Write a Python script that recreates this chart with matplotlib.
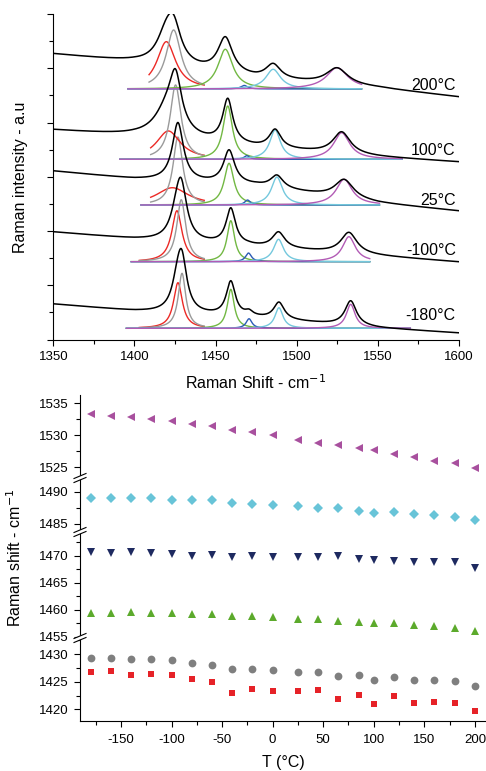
import numpy as np
import matplotlib
matplotlib.use("Agg")
import matplotlib.pyplot as plt
from matplotlib.ticker import MultipleLocator, NullFormatter
from matplotlib.lines import Line2D
from matplotlib.patches import Polygon

plt.rcParams['font.family'] = ['Liberation Sans', 'DejaVu Sans']
plt.rcParams['axes.unicode_minus'] = False

# ---------------- band positions (cm^-1) versus temperature ----------------
temperature = [-180, -160, -140, -120, -100, -80, -60, -40, -20, 0,
               25, 45, 65, 85, 100, 120, 140, 160, 180, 200]
band_1427 = [1426.82, 1427.00, 1426.29, 1426.35, 1426.17, 1425.46, 1424.99, 1422.97, 1423.68, 1423.27,
             1423.32, 1423.44, 1421.84, 1422.67, 1420.89, 1422.37, 1421.07, 1421.36, 1421.19, 1419.64]
band_1429 = [1429.32, 1429.32, 1429.02, 1429.02, 1428.84, 1428.43, 1428.07, 1427.36, 1427.30, 1427.06,
             1426.77, 1426.77, 1426.11, 1426.29, 1425.34, 1425.88, 1425.22, 1425.22, 1425.04, 1424.15]
band_1459 = [1459.38, 1459.38, 1459.50, 1459.38, 1459.38, 1459.25, 1459.19, 1458.81, 1458.81, 1458.56,
             1458.31, 1458.19, 1457.88, 1457.81, 1457.50, 1457.56, 1457.13, 1456.94, 1456.56, 1456.00]
band_1470 = [1470.62, 1470.49, 1470.62, 1470.49, 1470.31, 1469.88, 1470.12, 1469.81, 1469.88, 1469.75,
             1469.69, 1469.69, 1470.00, 1469.32, 1469.26, 1469.07, 1468.89, 1468.89, 1468.89, 1467.65]
band_1489 = [1489.06, 1489.06, 1489.06, 1489.00, 1488.79, 1488.79, 1488.69, 1488.32, 1488.16, 1487.95,
             1487.80, 1487.43, 1487.38, 1486.96, 1486.69, 1486.80, 1486.43, 1486.33, 1485.96, 1485.49]
band_1533 = [1533.26, 1533.05, 1532.84, 1532.53, 1532.16, 1531.68, 1531.37, 1530.74, 1530.53, 1530.00,
             1529.21, 1528.84, 1528.47, 1528.00, 1527.68, 1527.10, 1526.58, 1526.00, 1525.58, 1524.84]

# ---------------- stacked spectra ----------------
spectrum_temps = [200, 100, 25, -100, -180]
spectrum_labels = ['200°C', '100°C', '25°C', '-100°C', '-180°C']
label_level = [4.68, 3.48, 2.57, 1.64, 0.45]
# fitted-component zero level for each trace
fit_zero = [4.618, 3.322, 2.479, 1.434, 0.206]
# component heights, order: 1427, 1429, 1459, 1470, 1489, 1533 bands
fit_height = [[0.872, 1.088, 0.732, 0.065, 0.363, 0.393],
              [0.522, 1.370, 0.982, 0.066, 0.540, 0.490],
              [0.319, 1.253, 0.769, 0.092, 0.516, 0.474],
              [0.940, 1.143, 0.756, 0.160, 0.413, 0.461],
              [0.841, 1.014, 0.719, 0.177, 0.380, 0.442]]
# half widths at half maximum (cm^-1)
fit_hwhm = [[7.0, 5.5, 5.5, 2.5, 5.5, 8.0],
            [9.0, 4.0, 3.5, 2.0, 4.0, 6.0],
            [12.0, 3.6, 3.6, 2.1, 4.1, 6.0],
            [3.8, 3.3, 2.8, 2.2, 3.7, 4.8],
            [3.3, 2.8, 2.6, 2.2, 3.0, 3.3]]
# extra width of the measured bands relative to the fitted components
spectrum_broadening = [1.0, 1.08, 1.15, 1.25, 1.3]
# measured spectrum level at each band centre
spectrum_level = [[5.917, 5.991, 5.582, 4.977, 5.091, 5.010],
                  [4.660, 4.986, 4.446, 3.617, 3.880, 3.830],
                  [3.554, 3.991, 3.493, 2.848, 3.032, 2.953],
                  [2.817, 2.977, 2.429, 1.816, 1.987, 1.976],
                  [1.539, 1.650, 1.084, 0.562, 0.691, 0.715]]
# spectrum background
background_shift = [1350, 1400, 1475, 1550, 1600]
background_level = [[5.263, 5.115, 4.802, 4.636, 4.470],
                    [3.862, 3.751, 3.530, 3.364, 3.272],
                    [3.106, 2.959, 2.829, 2.516, 2.369],
                    [1.982, 1.853, 1.705, 1.539, 1.429],
                    [0.654, 0.525, 0.396, 0.212, 0.120]]
# shift range over which each fitted component is plotted
span_narrow = [(1409, 1443), (1410, 1443), (1410, 1443), (1403, 1443), (1403, 1443)]
span_wide = [(1396, 1540), (1391, 1565), (1404, 1551), (1398, 1545), (1395, 1570)]

fit_colors = ['#ec2a26', '#9a9a9a', '#72b843', '#2b5bb5', '#74c8dd', '#b25bb5']
marker_colors = ['#e62228', '#7f7f7f', '#5caa2c', '#1e2a60', '#68c4d8', '#a8509e']

W, H = 486, 771
fig = plt.figure(figsize=(W / 100, H / 100), dpi=100)


def lorentz(x, c, w):
    return 1.0 / (1.0 + ((x - c) / w) ** 2)


def style_ticks(ax):
    ax.tick_params(which='major', direction='out', length=4.5, width=0.8, labelsize=9.5)
    ax.tick_params(which='minor', direction='out', length=2.8, width=0.8)
    for side in ('top', 'right'):
        ax.spines[side].set_visible(False)
    for side in ('left', 'bottom'):
        ax.spines[side].set_linewidth(0.8)


# ---------------- top panel ----------------
ax = fig.add_axes([53.3 / W, 1 - 339.5 / H, 405.7 / W, 325.5 / H])
style_ticks(ax)
ax.set_xlim(1350, 1600)
ax.set_ylim(0, 6)
ax.xaxis.set_major_locator(MultipleLocator(50))
ax.xaxis.set_minor_locator(MultipleLocator(25))
ax.yaxis.set_major_locator(MultipleLocator(1))
ax.yaxis.set_minor_locator(MultipleLocator(0.5))
ax.yaxis.set_major_formatter(NullFormatter())

bands = [band_1427, band_1429, band_1459, band_1470, band_1489, band_1533]
x_full = np.linspace(1350, 1600, 1500)

for k in range(len(spectrum_temps))[::-1]:
    idx = temperature.index(spectrum_temps[k])
    centres = np.array([b[idx] for b in bands])
    widths = np.array(fit_hwhm[k])
    # fitted components
    for j in range(6):
        lo, hi = span_narrow[k] if j < 2 else span_wide[k]
        xs = np.linspace(lo, hi, 600)
        ax.plot(xs, fit_zero[k] + fit_height[k][j] * lorentz(xs, centres[j], widths[j]),
                color=fit_colors[j], lw=1.0, zorder=2)
    # measured spectrum: background plus band contributions
    sw = widths * spectrum_broadening[k]
    bg_c = np.interp(centres, background_shift, background_level[k])
    M = lorentz(centres[:, None], centres[None, :], sw[None, :])
    amp = np.clip(np.linalg.solve(M, np.array(spectrum_level[k]) - bg_c), 0, None)
    y = np.interp(x_full, background_shift, background_level[k])
    for j in range(6):
        y = y + amp[j] * lorentz(x_full, centres[j], sw[j])
    ax.plot(x_full, y, color='black', lw=1.1, zorder=3)
    ax.text(1598, label_level[k], spectrum_labels[k], ha='right', va='center',
            fontsize=11.5, zorder=4)

fig.text(256 / W, 1 - 383 / H, 'Raman Shift - cm$^{-1}$', ha='center', va='center', fontsize=11.5)
fig.text(20 / W, 1 - 177 / H, 'Raman intensity - a.u', ha='center', va='center',
         rotation=90, fontsize=11.5)

# ---------------- bottom panel (broken y axis) ----------------
segments = [(395, 478, 1523.3, 1536.3, [band_1533]),
            (478, 532, 1483.66, 1492.2, [band_1489]),
            (532, 638, 1454.76, 1474.4, [band_1470, band_1459]),
            (638, 721, 1417.9, 1432.9, [band_1429, band_1427])]
marker_style = {id(band_1427): ('s', 5.0), id(band_1429): ('o', 5.6), id(band_1459): ('^', 6.2),
                id(band_1470): ('v', 6.2), id(band_1489): ('D', 4.6), id(band_1533): ('<', 6.2)}
seg_axes = []
for top, bot, ylo, yhi, series in segments:
    a = fig.add_axes([80 / W, 1 - bot / H, 406 / W, (bot - top) / H])
    style_ticks(a)
    a.set_xlim(-190.5, 211)
    a.set_ylim(ylo, yhi)
    a.yaxis.set_major_locator(MultipleLocator(5))
    a.yaxis.set_minor_locator(MultipleLocator(2.5))
    a.xaxis.set_major_locator(MultipleLocator(50))
    a.xaxis.set_minor_locator(MultipleLocator(25))
    for s in series:
        mk, ms = marker_style[id(s)]
        col = marker_colors[bands.index(s)]
        a.plot(temperature, s, linestyle='none', marker=mk, ms=ms, color=col,
               markeredgewidth=0, clip_on=False)
    seg_axes.append(a)

for a in seg_axes[:-1]:
    a.spines['bottom'].set_visible(False)
    a.tick_params(axis='x', which='both', bottom=False, labelbottom=False)
seg_axes[-1].tick_params(axis='x', which='major', pad=5)

# break marks on the left spine at each junction
sx = 80 / W
for a in seg_axes[:-1]:
    yb = a.get_position().y0
    dx, dy, gap = 6 / W, 2.5 / H, 4 / H
    poly = Polygon([(sx - dx, yb - dy - gap / 2), (sx + dx, yb + dy - gap / 2),
                    (sx + dx, yb + dy + gap / 2), (sx - dx, yb - dy + gap / 2)],
                   closed=True, transform=fig.transFigure, facecolor='white',
                   edgecolor='none', zorder=10)
    fig.add_artist(poly)
    for off in (-gap / 2, gap / 2):
        fig.add_artist(Line2D([sx - dx, sx + dx], [yb - dy + off, yb + dy + off],
                              transform=fig.transFigure, color='black', lw=0.8, zorder=11))

fig.text(283 / W, 1 - 763 / H, 'T (°C)', ha='center', va='center', fontsize=11.5)
fig.text(15 / W, 1 - 558 / H, 'Raman shift - cm$^{-1}$', ha='center', va='center',
         rotation=90, fontsize=11.5)

fig.savefig('out.png', dpi=100)
